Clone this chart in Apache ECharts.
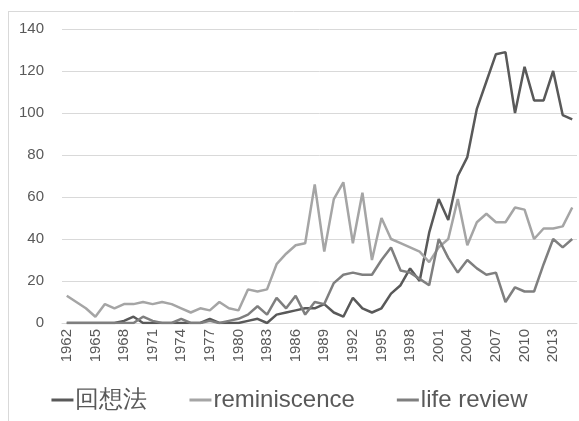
<!DOCTYPE html>
<html>
<head>
<meta charset="utf-8">
<script src="https://cdn.jsdelivr.net/npm/echarts@6/dist/echarts.min.js"></script>
<style>
  html, body { margin: 0; padding: 0; background: #fff; }
  #chart { width: 579px; height: 421px; }
</style>
</head>
<body>
<div id="chart"></div>
<script>
// years 1962 - 2015
const years = [];
for (let y = 1962; y <= 2015; y++) years.push(String(y));

const kaisohou = [0, 0, 0, 0, 0, 0, 1, 3, 0, 0, 0, 0, 0, 0, 0, 2, 0, 0, 0,
    1, 2, 0, 4, 5, 6, 7, 7, 9, 5, 3, 12, 7, 5, 7, 14, 18, 26, 20, 43,
    59, 49, 70, 79, 102, 115, 128, 129, 100, 122, 106, 106, 120, 99, 97];

const reminiscence = [13, 10, 7, 3, 9, 7, 9, 9, 10, 9, 10, 9, 7, 5, 7, 6, 10, 7, 6,
    16, 15, 16, 28, 33, 37, 38, 66, 34, 59, 67, 38, 62, 30, 50, 40, 38, 36, 34, 29,
    36, 40, 59, 37, 48, 52, 48, 48, 55, 54, 40, 45, 45, 46, 55];

const lifeReview = [0, 0, 0, 0, 0, 0, 0, 0, 3, 1, 0, 0, 2, 0, 0, 1, 0, 1, 2,
    4, 8, 4, 12, 7, 13, 4, 10, 9, 19, 23, 24, 23, 23, 30, 36, 25, 24, 21, 18,
    40, 31, 24, 30, 26, 23, 24, 10, 17, 15, 15, 28, 40, 36, 40];

const seriesNames = ['回想法', 'reminiscence', 'life review'];
const seriesColors = ['#595959', '#a5a5a5', '#7f7f7f'];

const chart = echarts.init(document.getElementById('chart'));

function makeLine(name, data, color) {
    return {
        name: name,
        type: 'line',
        data: data,
        symbol: 'none',
        lineStyle: { width: 2.5, color: color },
        itemStyle: { color: color }
    };
}

chart.setOption({
    animation: false,
    backgroundColor: '#fff',
    textStyle: { fontFamily: 'Liberation Sans, Arial, sans-serif' },
    grid: { left: 62, right: 2, top: 29, bottom: 98 },
    graphic: [
        { type: 'line', shape: { x1: 8, y1: 11.5, x2: 579, y2: 11.5 }, style: { stroke: '#d9d9d9', lineWidth: 1 } },
        { type: 'line', shape: { x1: 8.5, y1: 11, x2: 8.5, y2: 421 }, style: { stroke: '#d9d9d9', lineWidth: 1 } }
    ],
    legend: {
        bottom: 4,
        left: 'center',
        icon: 'rect',
        itemWidth: 22,
        itemHeight: 3,
        itemGap: 42,
        textStyle: { fontSize: 24, color: '#595959', padding: [0, 0, 0, -3] },
        data: seriesNames
    },
    xAxis: {
        type: 'category',
        data: years,
        boundaryGap: true,
        axisLine: { lineStyle: { color: '#d9d9d9' } },
        axisTick: { show: false },
        axisLabel: { rotate: 90, interval: 2, fontSize: 15, color: '#595959', margin: 6 }
    },
    yAxis: {
        type: 'value',
        min: 0,
        max: 140,
        interval: 20,
        axisLine: { show: false },
        axisTick: { show: false },
        splitLine: { lineStyle: { color: '#d9d9d9', width: 1 } },
        axisLabel: { fontSize: 15, color: '#595959', margin: 18 }
    },
    series: [
        makeLine(seriesNames[0], kaisohou, seriesColors[0]),
        makeLine(seriesNames[1], reminiscence, seriesColors[1]),
        makeLine(seriesNames[2], lifeReview, seriesColors[2])
    ]
});
</script>
</body>
</html>
